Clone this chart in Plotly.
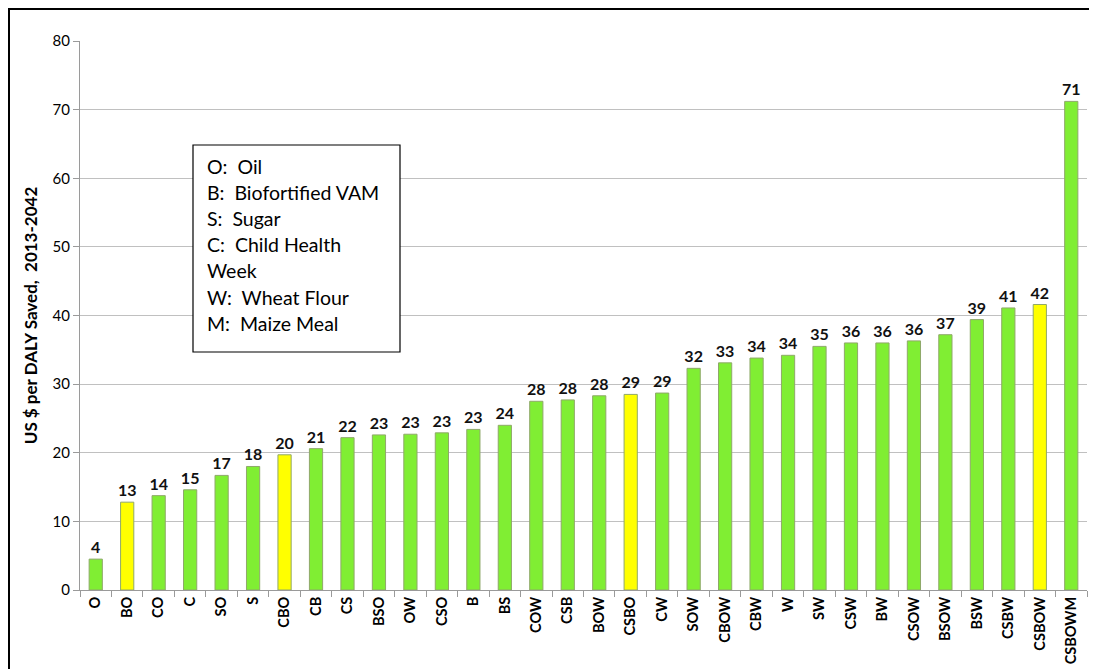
import plotly.graph_objects as go

categories = ["O", "BO", "CO", "C", "SO", "S", "CBO", "CB", "CS", "BSO", "OW", "CSO",
              "B", "BS", "COW", "CSB", "BOW", "CSBO", "CW", "SOW", "CBOW", "CBW", "W",
              "SW", "CSW", "BW", "CSOW", "BSOW", "BSW", "CSBW", "CSBOW", "CSBOWM"]
values = [4.5, 12.8, 13.75, 14.6, 16.7, 18.0, 19.7, 20.6, 22.2, 22.6, 22.7, 22.9,
          23.4, 24.0, 27.5, 27.7, 28.3, 28.5, 28.7, 32.3, 33.1, 33.8, 34.2,
          35.5, 36.0, 36.0, 36.3, 37.2, 39.4, 41.1, 41.6, 71.2]
value_labels = ["4", "13", "14", "15", "17", "18", "20", "21", "22", "23", "23", "23",
                "23", "24", "28", "28", "28", "29", "29", "32", "33", "34", "34",
                "35", "36", "36", "36", "37", "39", "41", "42", "71"]
highlighted = ["BO", "CBO", "CSBO", "CSBOW"]
legend_lines = ["O:\u00a0 Oil", "B:\u00a0 Biofortified VAM", "S:\u00a0 Sugar",
                "C:\u00a0 Child Health", "Week", "W:\u00a0 Wheat Flour", "M:\u00a0 Maize Meal"]
y_ticks = [0, 10, 20, 30, 40, 50, 60, 70, 80]

GREEN = "#80EE33"
YELLOW = "#FFFF00"
colors = [YELLOW if c in highlighted else GREEN for c in categories]

FONT = "Lato, Calibri, sans-serif"

# page offset (default body margin) and target plot-area geometry in screen pixels
OFF = 8
PLOT_L, PLOT_R, PLOT_T, PLOT_B = 80, 1087, 41, 590
W, H = 1089, 661
L = PLOT_L - OFF
T = PLOT_T - OFF
R = W - (PLOT_R - OFF)
B = H - (PLOT_B - OFF)
pw, ph = PLOT_R - PLOT_L, PLOT_B - PLOT_T


def px_x(x):
    return (x - PLOT_L) / pw


def px_y(y):
    return (PLOT_B - y) / ph


fig = go.Figure()
fig.add_trace(go.Bar(
    x=categories, y=values,
    marker=dict(color=colors, line=dict(color="#8FA86A", width=1)),
    width=0.42,
    text=value_labels, textposition="outside", constraintext="none",
    textfont=dict(family=FONT, size=16, color="#111111", weight="bold"),
    cliponaxis=False,
))

shapes = [
    dict(type="rect", xref="paper", yref="paper",
         x0=px_x(193), x1=px_x(400), y0=px_y(352), y1=px_y(145),
         line=dict(color="black", width=1.2), fillcolor="white", layer="above"),
    dict(type="rect", xref="paper", yref="paper",
         x0=px_x(OFF + 1), x1=px_x(1120), y0=px_y(700), y1=px_y(OFF + 1),
         line=dict(color="black", width=2), fillcolor="rgba(0,0,0,0)"),
]

annotations = []
for i, line in enumerate(legend_lines):
    annotations.append(dict(
        xref="paper", yref="paper", x=px_x(205), y=px_y(166 + i * 26.2),
        xanchor="left", yanchor="middle", showarrow=False, text=line,
        font=dict(family=FONT, size=19.5, color="black"),
    ))

fig.update_layout(
    width=W, height=H,
    margin=dict(l=L, r=R, t=T, b=B, autoexpand=False),
    paper_bgcolor="white", plot_bgcolor="white",
    showlegend=False,
    shapes=shapes,
    annotations=annotations,
    xaxis=dict(
        automargin=False,
        showline=True, linecolor="#9a9a9a", linewidth=1,
        ticks="outside", tickson="boundaries", ticklen=6, tickcolor="#9a9a9a",
        tickangle=-90,
        tickfont=dict(family=FONT, size=14.5, color="black", weight="bold"),
        showgrid=False,
    ),
    yaxis=dict(
        automargin=False,
        range=[0, 80], tickvals=y_ticks,
        showline=True, linecolor="#9a9a9a", linewidth=1,
        ticks="outside", ticklen=6, tickcolor="#9a9a9a",
        showgrid=True, gridcolor="#c0c0c0", gridwidth=1,
        zeroline=False,
        tickfont=dict(family=FONT, size=15, color="black"),
        title=dict(text="US $ per DALY Saved,\u00a0 2013-2042",
                   font=dict(family=FONT, size=17, color="black", weight="bold"),
                   standoff=10),
    ),
)

fig.write_html("out.html")
